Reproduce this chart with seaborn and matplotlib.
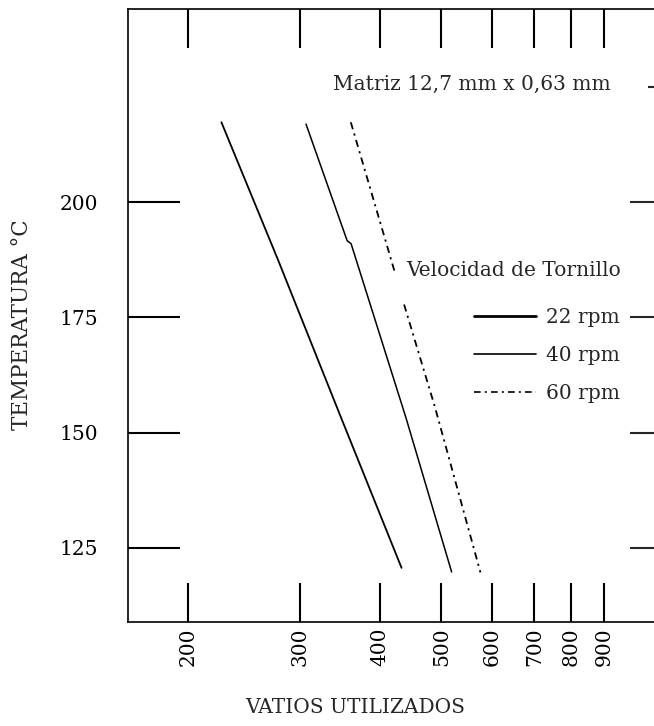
import numpy as np
import pandas as pd
import matplotlib
matplotlib.use("Agg")
import matplotlib.pyplot as plt
from matplotlib.lines import Line2D
from matplotlib.ticker import FixedLocator, FixedFormatter, NullLocator
import seaborn as sns

# ---- data ----
watts_22 = [225.7, 277.0, 348.0, 433.0]
temp_22 = [217.4, 187.5, 153.2, 120.6]

watts_40 = [306.5, 355.6, 360.8, 440.2, 519.0]
temp_40 = [217.0, 191.7, 191.0, 153.1, 119.7]

watts_60_upper = [360.4, 422.8]
temp_60_upper = [217.4, 184.7]
watts_60_lower = [437.0, 488.2, 576.0]
temp_60_lower = [177.8, 155.7, 119.6]

x_ticks = [200, 300, 400, 500, 600, 700, 800, 900]
x_tick_labels = ["200", "300", "400", "500", "600", "700", "800", "900"]
y_ticks = [125, 150, 175, 200]
y_tick_labels = ["125", "150", "175", "200"]
right_ticks = [125, 150, 175, 200]
right_top_tick = [225]
series_labels = ["22 rpm", "40 rpm", "60 rpm"]
legend_title = "Velocidad de Tornillo"
note_text = "Matriz 12,7 mm x 0,63 mm"
x_label = "VATIOS UTILIZADOS"
y_label = "TEMPERATURA °C"

# ---- style ----
sns.set_style("white")
plt.rcParams["font.family"] = ["DejaVu Serif", "DejaVu Sans"]
FS = 14.5
PX = 0.72  # points per pixel at 100 dpi

W, H = 654, 726
fig = plt.figure(figsize=(W / 100, H / 100), dpi=100)
left_px, right_px, top_px, bottom_px = 128, 682, 9, 621.7
ax = fig.add_axes([left_px / W, 1 - bottom_px / H,
                   (right_px - left_px) / W, (bottom_px - top_px) / H])

dash60 = (0, (4, 2.5, 1.2, 2.5))

sns.lineplot(x=watts_22, y=temp_22, ax=ax, color="black", lw=1.3,
             sort=False, estimator=None)
sns.lineplot(x=watts_40, y=temp_40, ax=ax, color="black", lw=1.1,
             sort=False, estimator=None)
sns.lineplot(x=watts_60_upper, y=temp_60_upper, ax=ax, color="black", lw=1.3,
             sort=False, estimator=None, linestyle=dash60)
sns.lineplot(x=watts_60_lower, y=temp_60_lower, ax=ax, color="black", lw=1.3,
             sort=False, estimator=None, linestyle=dash60)

ax.set_xscale("log")
ax.set_xlim(161, 1194)
ax.set_ylim(108.9, 242)

ax.xaxis.set_major_locator(FixedLocator(x_ticks))
ax.xaxis.set_major_formatter(FixedFormatter(x_tick_labels))
ax.xaxis.set_minor_locator(NullLocator())
ax.yaxis.set_major_locator(FixedLocator(y_ticks))
ax.yaxis.set_major_formatter(FixedFormatter(y_tick_labels))
ax.yaxis.set_minor_locator(NullLocator())

ax.tick_params(axis="x", which="major", direction="in", length=39 * PX,
               width=1.5, top=True, bottom=True, labelsize=FS,
               labelrotation=90, pad=4, colors="black")
ax.tick_params(axis="y", which="major", direction="in", length=52 * PX,
               width=1.5, left=True, right=False, labelsize=FS,
               pad=30 * PX, colors="black")

sec = ax.secondary_yaxis("right")
sec.yaxis.set_major_locator(FixedLocator(right_ticks))
sec.yaxis.set_minor_locator(FixedLocator(right_top_tick))
sec.set_yticklabels([""] * len(right_ticks))
sec.tick_params(which="major", direction="in", length=52 * PX, width=1.5)
sec.tick_params(which="minor", direction="in", length=34 * PX, width=1.5)

for sp in ax.spines.values():
    sp.set_color("black")
    sp.set_linewidth(1.2)

ax.set_xlabel(x_label, fontsize=FS)
ax.xaxis.set_label_coords((355 - left_px) / (right_px - left_px),
                          (bottom_px - 698) / (bottom_px - top_px))
ax.set_ylabel(y_label, fontsize=15.5)
ax.yaxis.set_label_coords((33 - left_px) / (right_px - left_px),
                          (bottom_px - 325) / (bottom_px - top_px))

fig.text(333 / W, 1 - 84 / H, note_text, fontsize=FS, ha="left", va="center")
fig.text(406 / W, 1 - 270 / H, legend_title, fontsize=FS, ha="left",
         va="center")

handles = [
    Line2D([], [], color="black", lw=2.0),
    Line2D([], [], color="black", lw=1.2),
    Line2D([], [], color="black", lw=1.2, linestyle=dash60),
]
leg = ax.legend(handles, series_labels, frameon=False,
                loc="upper right", bbox_to_anchor=(620 / W, 1 - 308 / H),
                bbox_transform=fig.transFigure, borderaxespad=0, borderpad=0,
                handlelength=3.1, handletextpad=0.5,
                labelspacing=0.95, fontsize=FS)

fig.savefig("out.png", dpi=100)
